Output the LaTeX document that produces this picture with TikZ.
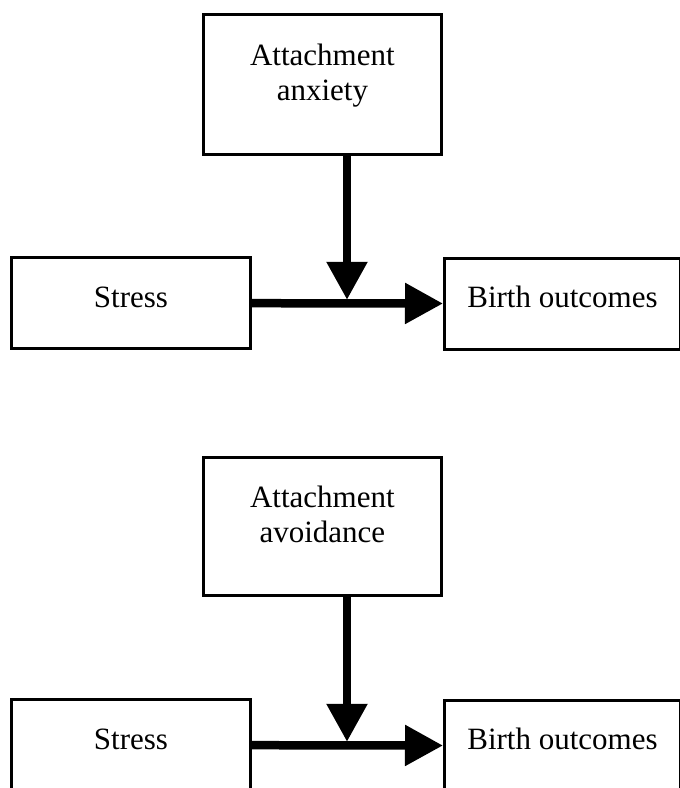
\documentclass[tikz,border=0pt]{standalone}
\usepackage{fontspec}
\setmainfont{Liberation Serif}
\usetikzlibrary{arrows.meta}

\begin{document}
\begin{tikzpicture}[x=1pt, y=-1pt,
		box/.style={draw, line width=3pt, inner sep=0pt},
		lbl/.style={anchor=base, inner sep=0pt, align=center, font=\fontsize{31}{35}\selectfont},
		arr/.style={line width=8.5pt, -{Triangle[length=38pt, width=39pt]}}]
		\useasboundingbox (0,0) rectangle (680,788);
		
		\node[box, minimum width=238pt, minimum height=140pt] (n1) at (322.4,84.7) {};
		\node[box, minimum width=239pt, minimum height=91pt] (n2) at (131,303) {};
		\node[box, minimum width=236pt, minimum height=91pt] (n3) at (562.5,303.7) {};
		\coordinate (m1) at (347,299.8);
		
		\node[lbl] (t1) at (322.4,100) {Attachment\\anxiety};
		\node[lbl] (t2) at (131,307) {Stress};
		\node[lbl] (t3) at (562.5,307.5) {Birth outcomes};
		
		\draw[arr] (n2) -- (n3);
		\draw[arr] (m1 |- n1.south) -- (m1);
		
		\node[box, minimum width=238pt, minimum height=138pt] (n4) at (322.4,526.5) {};
		\node[box, minimum width=239pt, minimum height=91pt] (n5) at (131,745) {};
		\node[box, minimum width=236pt, minimum height=91pt] (n6) at (562.5,745.7) {};
		\coordinate (m2) at (347,741.8);
		
		\node[lbl] (t4) at (322.4,542) {Attachment\\avoidance};
		\node[lbl] (t5) at (131,749) {Stress};
		\node[lbl] (t6) at (562.5,749.5) {Birth outcomes};
		
		\draw[arr] (n5) -- (n6);
		\draw[arr] (m2 |- n4.south) -- (m2);
\end{tikzpicture}
\end{document}
